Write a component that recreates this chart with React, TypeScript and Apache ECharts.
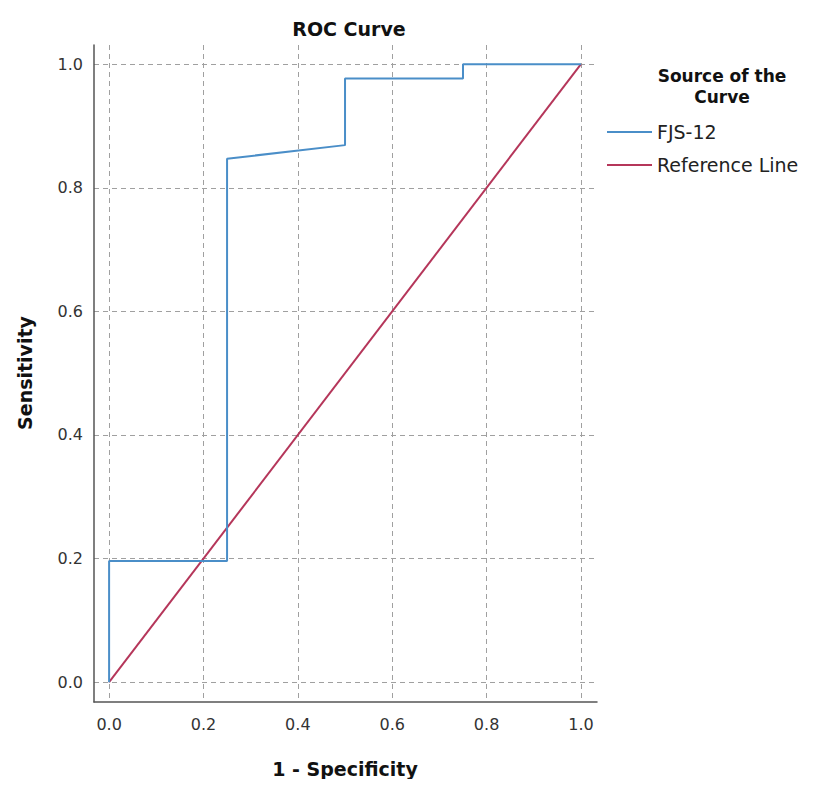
import React, { useEffect, useRef } from "react";
import * as echarts from "echarts";

const fjsX = [0, 0, 0.25, 0.25, 0.5, 0.5, 0.75, 0.75, 1];
const fjsY = [0, 0.196, 0.196, 0.847, 0.869, 0.977, 0.977, 1, 1];
const refX = [0, 1];
const refY = [0, 1];
const tickValues = [0, 0.2, 0.4, 0.6, 0.8, 1.0];
const seriesNames = ["FJS-12", "Reference Line"];

export default function App() {
  const ref = useRef<HTMLDivElement>(null);
  useEffect(() => {
    const chart = echarts.init(ref.current!, null, { renderer: "svg" });
    const font = "DejaVu Sans, Verdana, sans-serif";
    const axisCommon = {
      type: "value",
      axisLine: { show: true, onZero: false, lineStyle: { color: "#555", width: 1.5 } },
      axisTick: { show: false, customValues: tickValues },
      axisLabel: {
        customValues: tickValues,
        formatter: (v: number) => v.toFixed(1),
        color: "#333",
        fontSize: 16,
        fontFamily: font,
      },
      splitLine: {
        show: true,
        lineStyle: { color: "#a0a0a0", type: [5, 4], width: 1 },
      },
    };
    chart.setOption({
      animation: false,
      textStyle: { fontFamily: font },
      title: {
        text: "ROC Curve",
        left: 336,
        textAlign: "center",
        top: 6,
        textStyle: { fontSize: 19, fontWeight: "bold", color: "#111", fontFamily: font },
      },
      grid: { left: 86, right: 211, top: 37, bottom: 77 },
      xAxis: {
        ...axisCommon,
        min: -0.032,
        max: 1.034,
        axisLabel: { ...axisCommon.axisLabel, margin: 14 },
      },
      yAxis: {
        ...axisCommon,
        min: -0.032,
        max: 1.031,
        axisLabel: { ...axisCommon.axisLabel, margin: 11 },
      },
      legend: {
        orient: "vertical",
        left: 599,
        top: 114,
        padding: 0,
        itemGap: 13,
        itemWidth: 45,
        itemHeight: 2,
        icon: "rect",
        textStyle: { fontSize: 19, lineHeight: 20, color: "#222", fontFamily: font },
        data: seriesNames,
      },
      graphic: [
        {
          type: "text",
          x: 714,
          y: 78,
          style: {
            text: "Source of the\nCurve",
            fill: "#111",
            font: "bold 17px DejaVu Sans, Verdana, sans-serif",
            textAlign: "center",
            textVerticalAlign: "middle",
            lineHeight: 21,
          },
        },
        {
          type: "text",
          x: 337,
          y: 761,
          style: {
            text: "1 - Specificity",
            fill: "#111",
            font: "bold 19px DejaVu Sans, Verdana, sans-serif",
            textAlign: "center",
            textVerticalAlign: "middle",
          },
        },
        {
          type: "text",
          x: 17,
          y: 365,
          rotation: Math.PI / 2,
          style: {
            text: "Sensitivity",
            fill: "#111",
            font: "bold 19px DejaVu Sans, Verdana, sans-serif",
            textAlign: "center",
            textVerticalAlign: "middle",
          },
        },
      ],
      series: [
        {
          name: seriesNames[0],
          type: "line",
          symbol: "none",
          lineStyle: { color: "#4a8ec8", width: 2 },
          itemStyle: { color: "#4a8ec8" },
          data: fjsX.map((x, i) => [x, fjsY[i]]),
          z: 3,
        },
        {
          name: seriesNames[1],
          type: "line",
          symbol: "none",
          lineStyle: { color: "#b5365a", width: 2 },
          itemStyle: { color: "#b5365a" },
          data: refX.map((x, i) => [x, refY[i]]),
          z: 2,
        },
      ],
    });
    return () => chart.dispose();
  }, []);
  return <div ref={ref} style={{ width: 800, height: 771 }} />;
}
